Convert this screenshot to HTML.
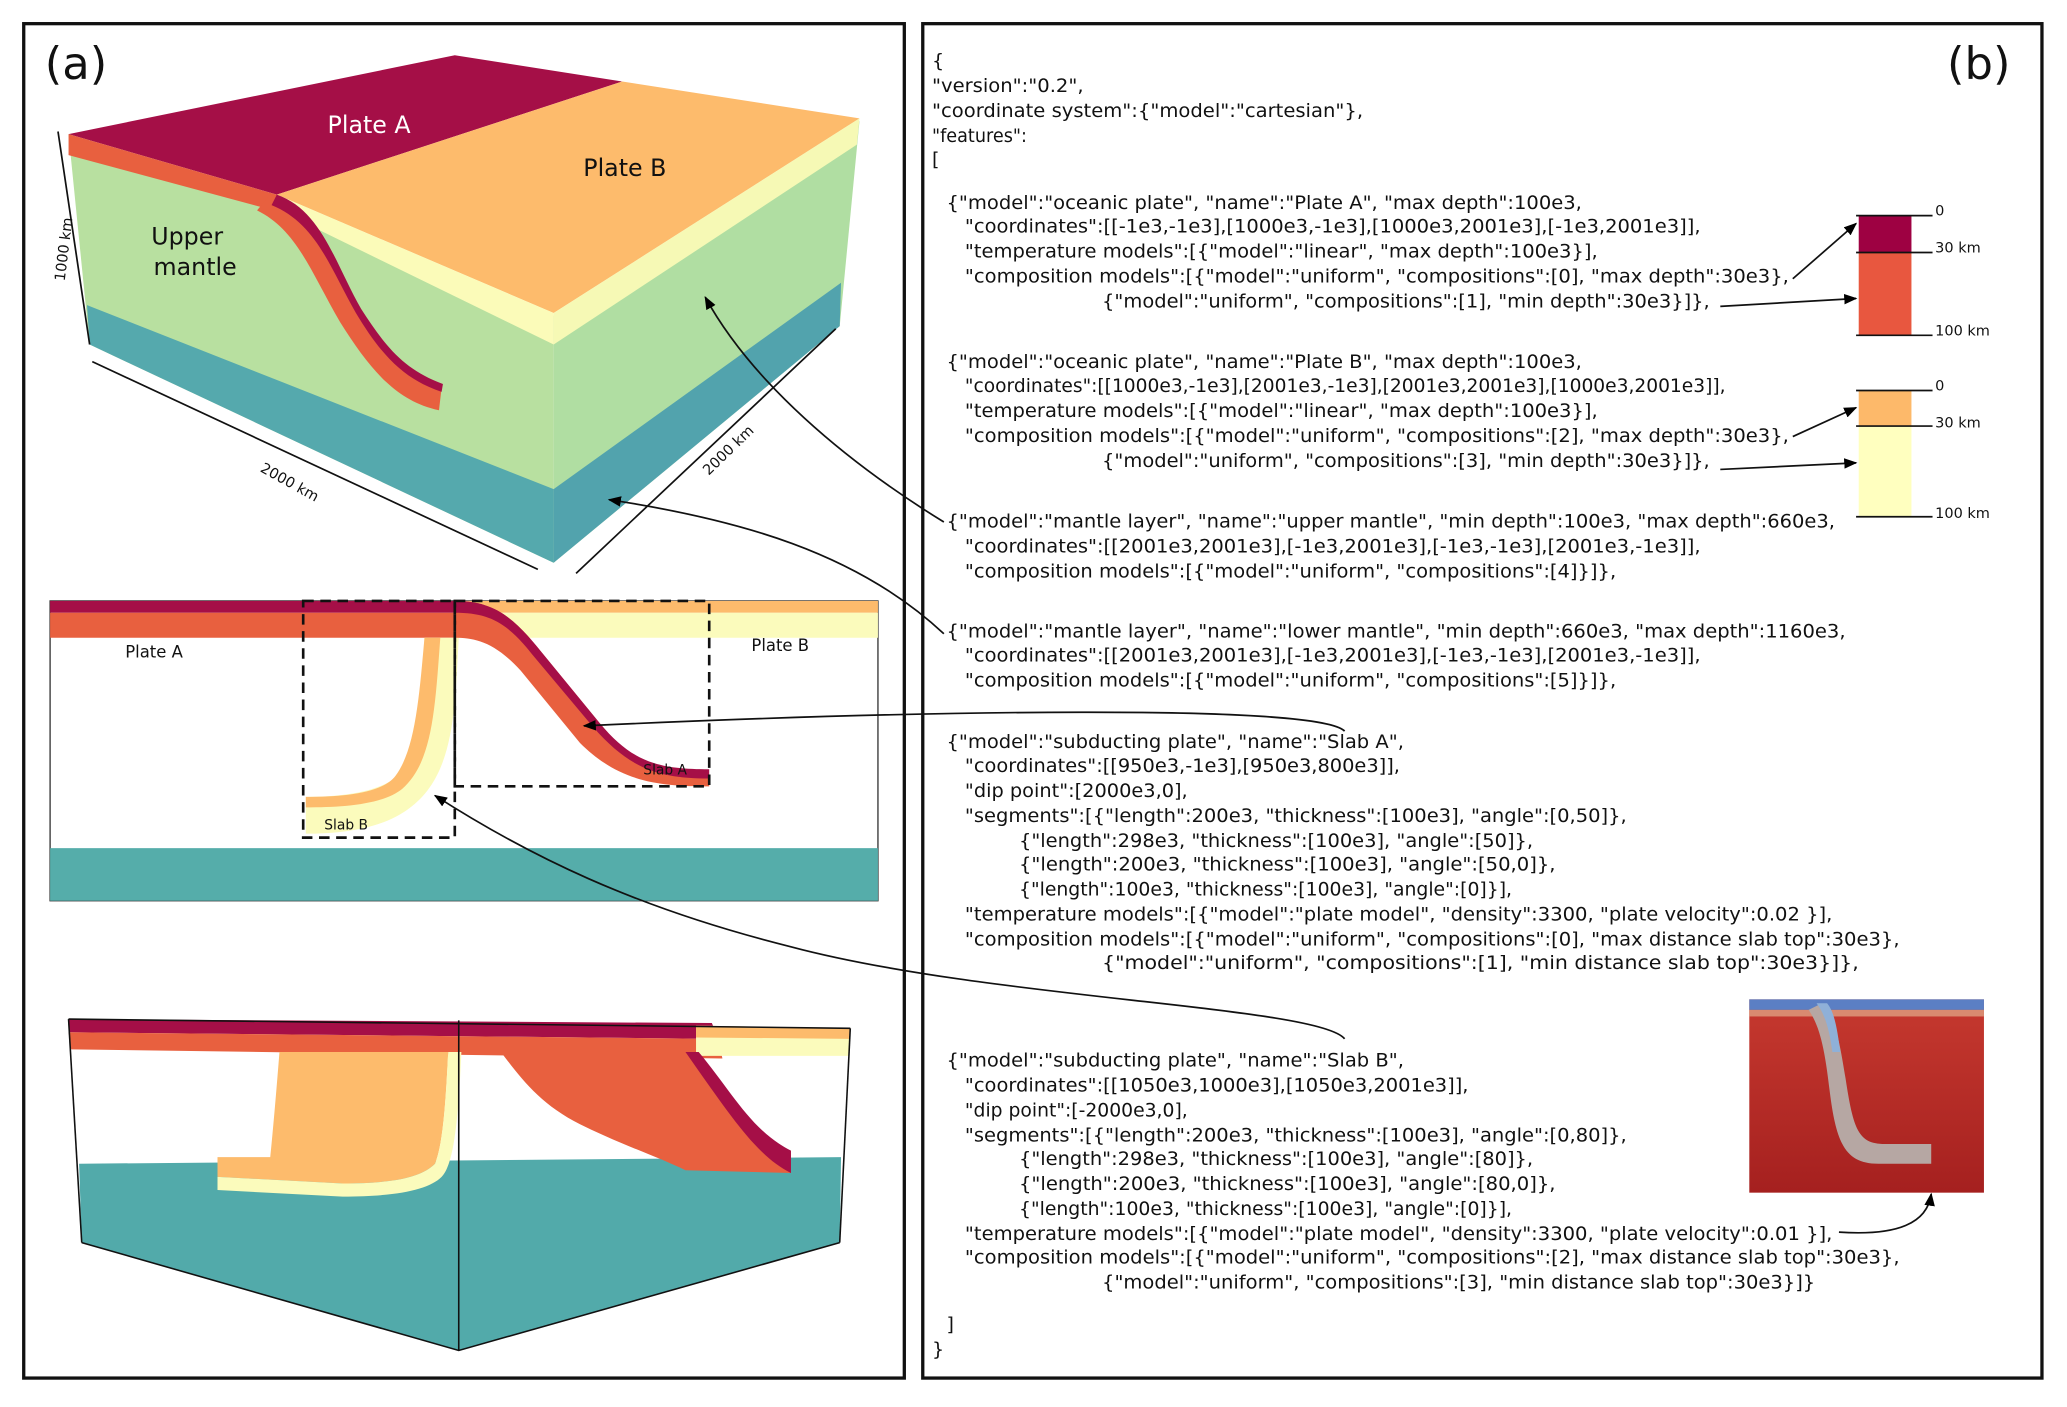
<!DOCTYPE html>
<html><head><meta charset="utf-8"><style>
html,body{margin:0;padding:0;background:#fff}
svg{display:block}
.c{font-family:"DejaVu Sans","Liberation Sans",sans-serif;font-size:14.5px;fill:#111}
.s{font-family:"DejaVu Sans","Liberation Sans",sans-serif;font-size:11px;fill:#111}
</style></head><body>
<svg width="2067" height="1407" viewBox="0 0 1568 1070" preserveAspectRatio="none" xmlns="http://www.w3.org/2000/svg">
<defs>
<marker id="ah" markerWidth="10" markerHeight="8" refX="9" refY="4" orient="auto" markerUnits="userSpaceOnUse"><path d="M0,0 L10,4 L0,8 z" fill="#000"/></marker>
<linearGradient id="ins" x1="0" y1="0" x2="0" y2="1"><stop offset="0" stop-color="#c6392f"/><stop offset="1" stop-color="#a5201f"/></linearGradient>
</defs>
<rect x="0" y="0" width="1568" height="1070" fill="#fff"/>
<rect x="18" y="18" width="668" height="1030" fill="none" stroke="#111" stroke-width="2.5"/>
<rect x="700" y="18" width="849" height="1030" fill="none" stroke="#111" stroke-width="2.5"/>
<text x="34" y="60" font-family="DejaVu Sans,sans-serif" font-size="34" fill="#111">(a)</text>
<text x="1477" y="60" font-family="DejaVu Sans,sans-serif" font-size="34" fill="#111">(b)</text>

<g>
<polygon points="52,102 420,240 420,428 68,262" fill="#b8e0a0"/>
<polygon points="420,240 652,92 637,248 420,428" fill="#b0dea2"/>
<polygon points="66,232 420,372 420,428 68,262" fill="#55a9ad"/>
<polygon points="420,372 638,215 637,248 420,428" fill="#52a3ad"/>
<polygon points="52,102 345,42 472,62 210,148" fill="#a50f47"/>
<polygon points="472,62 652,90 420,238 210,148" fill="#fdbb6c"/>
<polygon points="210,148 420,238 420,262 232,170" fill="#fbfbb9"/>
<polygon points="420,238 652,90 650,110 420,262" fill="#f6f9b5"/>
<polygon points="52,102 210,148 215,162 52,118" fill="#e8603f"/>
<path d="M205,148 C240,160 250,200 270,235 C290,265 305,285 335,295 L333,312 C300,305 280,280 258,245 C235,205 225,175 195,160 Z" fill="#e8603f"/>
<path d="M210,148 C244,160 254,200 274,235 C292,263 306,281 336,292 L335,298 C305,288 288,268 270,238 C250,203 240,170 206,156 Z" fill="#a50f47"/>
<text x="280" y="101" font-family="DejaVu Sans,sans-serif" font-size="18" fill="#fff" text-anchor="middle">Plate A</text>
<text x="474" y="134" font-family="DejaVu Sans,sans-serif" font-size="18" fill="#111" text-anchor="middle">Plate B</text>
<text x="142" y="186" font-family="DejaVu Sans,sans-serif" font-size="18" fill="#111" text-anchor="middle">Upper</text>
<text x="148" y="209" font-family="DejaVu Sans,sans-serif" font-size="18" fill="#111" text-anchor="middle">mantle</text>
<line x1="44" y1="100" x2="68" y2="262" stroke="#111" stroke-width="1.3"/>
<text transform="translate(52,190) rotate(-83)" font-family="DejaVu Sans,sans-serif" font-size="11" fill="#111" text-anchor="middle">1000 km</text>
<line x1="70" y1="275" x2="408" y2="433" stroke="#111" stroke-width="1.3"/>
<text transform="translate(218,370) rotate(29)" font-family="DejaVu Sans,sans-serif" font-size="11" fill="#111" text-anchor="middle">2000 km</text>
<line x1="437" y1="436" x2="634" y2="250" stroke="#111" stroke-width="1.3"/>
<text transform="translate(555,345) rotate(-44)" font-family="DejaVu Sans,sans-serif" font-size="11" fill="#111" text-anchor="middle">2000 km</text>
</g>

<g>
<rect x="38" y="457" width="628" height="228" fill="#fff" stroke="#333" stroke-width="1"/>
<rect x="38" y="645" width="628" height="40" fill="#55adaa"/>
<rect x="38" y="457" width="310" height="9" fill="#a50f47"/>
<rect x="38" y="466" width="310" height="19" fill="#e8603f"/>
<rect x="345" y="457" width="321" height="9" fill="#fdbb6c"/>
<rect x="345" y="466" width="321" height="19" fill="#fbfbbc"/>
<path d="M322,485 L348,485 C345,540 345,590 310,615 C290,630 260,634 232,634 L232,606 C268,606 300,600 310,580 C318,555 320,520 322,485 Z" fill="#fbfbbc"/>
<path d="M322,485 L334,485 C330,540 328,580 305,600 C290,612 260,614 232,614 L232,606 C262,606 290,603 300,590 C315,570 318,530 322,485 Z" fill="#fdbb6c"/>
<path d="M345,457 C375,457 390,470 410,495 L455,550 C480,580 500,590 538,590 L538,598 C500,598 470,595 440,565 L395,510 C375,488 360,485 345,485 Z" fill="#e8603f"/>
<path d="M345,457 C375,457 390,470 410,495 L455,550 C480,580 500,585 538,585 L538,592 C500,592 478,585 450,553 L404,498 C385,474 372,466 345,466 Z" fill="#a50f47"/>
<rect x="230" y="457" width="115" height="180" fill="none" stroke="#111" stroke-width="2" stroke-dasharray="8,5"/>
<rect x="345" y="457" width="193" height="141" fill="none" stroke="#111" stroke-width="2" stroke-dasharray="8,5"/>
<text x="95" y="500" font-family="DejaVu Sans,sans-serif" font-size="12.5" fill="#111">Plate A</text>
<text x="570" y="495" font-family="DejaVu Sans,sans-serif" font-size="12.5" fill="#111">Plate B</text>
<text x="488" y="589" font-family="DejaVu Sans,sans-serif" font-size="10.5" fill="#111">Slab A</text>
<text x="246" y="631" font-family="DejaVu Sans,sans-serif" font-size="10.5" fill="#111">Slab B</text>
</g>

<g>
<polygon points="60,885 638,880 637,945 348,1027 62,945" fill="#52aaaa"/>
<polygon points="52,775 540,778 545,790 52,785" fill="#a50f47"/>
<polygon points="52,785 545,790 548,805 54,798" fill="#e8603f"/>
<polygon points="528,780 645,782 644,803 528,803" fill="#fbfbbc"/>
<polygon points="528,780 645,782 645,790 528,789" fill="#fdbb6c"/>
<path d="M380,800 L520,800 C545,830 560,860 575,870 L600,875 L600,892 L520,890 C500,880 470,870 440,855 C410,840 395,820 380,800 Z" fill="#e8603f"/>
<path d="M520,800 L530,800 C555,830 570,860 600,875 L600,892 C575,880 555,850 520,800 Z" fill="#a50f47"/>
<path d="M212,800 L340,800 C338,840 336,870 330,885 C320,895 300,900 260,900 L165,895 L165,880 L205,880 C208,850 210,825 212,800 Z" fill="#fdbb6c"/>
<path d="M340,800 L350,800 C348,845 345,885 335,895 C325,905 300,910 260,910 L165,905 L165,895 L260,900 C300,900 320,895 330,885 C336,870 338,840 340,800 Z" fill="#fbfbbc"/>
<polyline points="52,775 645,782" fill="none" stroke="#111" stroke-width="1.2"/>
<line x1="52" y1="775" x2="62" y2="945" stroke="#111" stroke-width="1.2"/>
<line x1="645" y1="782" x2="637" y2="945" stroke="#111" stroke-width="1.2"/>
<line x1="348" y1="776" x2="348" y2="1027" stroke="#111" stroke-width="1.2"/>
<polyline points="62,945 348,1027 637,945" fill="none" stroke="#111" stroke-width="1.2"/>
</g>

<g fill="none" stroke="#111" stroke-width="1.3">
<path d="M716,397 C640,350 570,290 535,226" marker-end="url(#ah)"/>
<path d="M716,482 C650,420 560,395 462,380" marker-end="url(#ah)"/>
<path d="M1020,556 C1000,535 700,540 443,552" marker-end="url(#ah)"/>
<path d="M1020,790 C1000,765 750,760 600,720 C480,690 400,650 330,605" marker-end="url(#ah)"/>
<path d="M1395,937 C1440,940 1462,930 1465,908" marker-end="url(#ah)"/>
<line x1="1360" y1="212" x2="1408" y2="170" marker-end="url(#ah)"/>
<line x1="1305" y1="233" x2="1408" y2="227" marker-end="url(#ah)"/>
<line x1="1360" y1="332" x2="1408" y2="310" marker-end="url(#ah)"/>
<line x1="1305" y1="357" x2="1408" y2="352" marker-end="url(#ah)"/>
</g>

<g>
<rect x="1410" y="164" width="40" height="28" fill="#9e0142"/>
<rect x="1410" y="192" width="40" height="63" fill="#e8573f"/>
<line x1="1408" y1="164" x2="1466" y2="164" stroke="#111" stroke-width="1.3"/>
<line x1="1408" y1="192" x2="1466" y2="192" stroke="#111" stroke-width="1.3"/>
<line x1="1408" y1="255" x2="1466" y2="255" stroke="#111" stroke-width="1.3"/>
<text class="s" x="1468" y="164">0</text><text class="s" x="1468" y="192">30 km</text><text class="s" x="1468" y="255">100 km</text>
</g>
<g>
<rect x="1410" y="297" width="40" height="27" fill="#fdb96a"/>
<rect x="1410" y="324" width="40" height="69" fill="#ffffbf"/>
<line x1="1408" y1="297" x2="1466" y2="297" stroke="#111" stroke-width="1.3"/>
<line x1="1408" y1="324" x2="1466" y2="324" stroke="#111" stroke-width="1.3"/>
<line x1="1408" y1="393" x2="1466" y2="393" stroke="#111" stroke-width="1.3"/>
<text class="s" x="1468" y="297">0</text><text class="s" x="1468" y="325">30 km</text><text class="s" x="1468" y="394">100 km</text>
</g>
<g>
<rect x="1327" y="760" width="178" height="147" fill="url(#ins)"/>
<rect x="1327" y="760" width="178" height="8" fill="#5b7fc4"/>
<rect x="1327" y="768" width="178" height="5" fill="#d98a70"/>
<path d="M1380,764 C1392,770 1395,790 1400,820 C1406,860 1410,870 1430,870 L1465,870 L1465,885 L1425,885 C1400,885 1393,870 1388,830 C1384,795 1380,780 1372,768 Z" fill="#b6a7a3"/>
<path d="M1378,763 L1386,763 C1392,770 1394,785 1396,800 L1390,800 C1388,785 1385,772 1378,763 Z" fill="#8fb0d8"/>
</g>

<g class="c">
<text x="707" y="51">{</text>
<text x="707" y="70" textLength="115" lengthAdjust="spacingAndGlyphs">"version":"0.2",</text>
<text x="707" y="89" textLength="327" lengthAdjust="spacingAndGlyphs">"coordinate system":{"model":"cartesian"},</text>
<text x="707" y="108" textLength="72" lengthAdjust="spacingAndGlyphs">"features":</text>
<text x="707" y="126">[</text>

<text x="718" y="159" textLength="482" lengthAdjust="spacingAndGlyphs">{"model":"oceanic plate", "name":"Plate A", "max depth":100e3,</text>
<text x="732" y="177" textLength="558" lengthAdjust="spacingAndGlyphs">"coordinates":[[-1e3,-1e3],[1000e3,-1e3],[1000e3,2001e3],[-1e3,2001e3]],</text>
<text x="732" y="196" textLength="480" lengthAdjust="spacingAndGlyphs">"temperature models":[{"model":"linear", "max depth":100e3}],</text>
<text x="732" y="215" textLength="625" lengthAdjust="spacingAndGlyphs">"composition models":[{"model":"uniform", "compositions":[0], "max depth":30e3},</text>
<text x="836" y="234" textLength="461" lengthAdjust="spacingAndGlyphs">{"model":"uniform", "compositions":[1], "min depth":30e3}]},</text>

<text x="718" y="280" textLength="482" lengthAdjust="spacingAndGlyphs">{"model":"oceanic plate", "name":"Plate B", "max depth":100e3,</text>
<text x="732" y="298" textLength="577" lengthAdjust="spacingAndGlyphs">"coordinates":[[1000e3,-1e3],[2001e3,-1e3],[2001e3,2001e3],[1000e3,2001e3]],</text>
<text x="732" y="317" textLength="480" lengthAdjust="spacingAndGlyphs">"temperature models":[{"model":"linear", "max depth":100e3}],</text>
<text x="732" y="336" textLength="625" lengthAdjust="spacingAndGlyphs">"composition models":[{"model":"uniform", "compositions":[2], "max depth":30e3},</text>
<text x="836" y="355" textLength="461" lengthAdjust="spacingAndGlyphs">{"model":"uniform", "compositions":[3], "min depth":30e3}]},</text>

<text x="718" y="401" textLength="674" lengthAdjust="spacingAndGlyphs">{"model":"mantle layer", "name":"upper mantle", "min depth":100e3, "max depth":660e3,</text>
<text x="732" y="420" textLength="558" lengthAdjust="spacingAndGlyphs">"coordinates":[[2001e3,2001e3],[-1e3,2001e3],[-1e3,-1e3],[2001e3,-1e3]],</text>
<text x="732" y="439" textLength="494" lengthAdjust="spacingAndGlyphs">"composition models":[{"model":"uniform", "compositions":[4]}]},</text>

<text x="718" y="485" textLength="682" lengthAdjust="spacingAndGlyphs">{"model":"mantle layer", "name":"lower mantle", "min depth":660e3, "max depth":1160e3,</text>
<text x="732" y="503" textLength="558" lengthAdjust="spacingAndGlyphs">"coordinates":[[2001e3,2001e3],[-1e3,2001e3],[-1e3,-1e3],[2001e3,-1e3]],</text>
<text x="732" y="522" textLength="494" lengthAdjust="spacingAndGlyphs">"composition models":[{"model":"uniform", "compositions":[5]}]},</text>

<text x="718" y="569" textLength="347" lengthAdjust="spacingAndGlyphs">{"model":"subducting plate", "name":"Slab A",</text>
<text x="732" y="587" textLength="330" lengthAdjust="spacingAndGlyphs">"coordinates":[[950e3,-1e3],[950e3,800e3]],</text>
<text x="732" y="606" textLength="169" lengthAdjust="spacingAndGlyphs">"dip point":[2000e3,0],</text>
<text x="732" y="625" textLength="502" lengthAdjust="spacingAndGlyphs">"segments":[{"length":200e3, "thickness":[100e3], "angle":[0,50]},</text>
<text x="773" y="644" textLength="390" lengthAdjust="spacingAndGlyphs">{"length":298e3, "thickness":[100e3], "angle":[50]},</text>
<text x="773" y="662" textLength="407" lengthAdjust="spacingAndGlyphs">{"length":200e3, "thickness":[100e3], "angle":[50,0]},</text>
<text x="773" y="681" textLength="374" lengthAdjust="spacingAndGlyphs">{"length":100e3, "thickness":[100e3], "angle":[0]}],</text>
<text x="732" y="700" textLength="658" lengthAdjust="spacingAndGlyphs">"temperature models":[{"model":"plate model", "density":3300, "plate velocity":0.02 }],</text>
<text x="732" y="719" textLength="709" lengthAdjust="spacingAndGlyphs">"composition models":[{"model":"uniform", "compositions":[0], "max distance slab top":30e3},</text>
<text x="836" y="737" textLength="574" lengthAdjust="spacingAndGlyphs">{"model":"uniform", "compositions":[1], "min distance slab top":30e3}]},</text>

<text x="718" y="811" textLength="347" lengthAdjust="spacingAndGlyphs">{"model":"subducting plate", "name":"Slab B",</text>
<text x="732" y="830" textLength="382" lengthAdjust="spacingAndGlyphs">"coordinates":[[1050e3,1000e3],[1050e3,2001e3]],</text>
<text x="732" y="849" textLength="169" lengthAdjust="spacingAndGlyphs">"dip point":[-2000e3,0],</text>
<text x="732" y="868" textLength="502" lengthAdjust="spacingAndGlyphs">"segments":[{"length":200e3, "thickness":[100e3], "angle":[0,80]},</text>
<text x="773" y="886" textLength="390" lengthAdjust="spacingAndGlyphs">{"length":298e3, "thickness":[100e3], "angle":[80]},</text>
<text x="773" y="905" textLength="407" lengthAdjust="spacingAndGlyphs">{"length":200e3, "thickness":[100e3], "angle":[80,0]},</text>
<text x="773" y="924" textLength="374" lengthAdjust="spacingAndGlyphs">{"length":100e3, "thickness":[100e3], "angle":[0]}],</text>
<text x="732" y="943" textLength="658" lengthAdjust="spacingAndGlyphs">"temperature models":[{"model":"plate model", "density":3300, "plate velocity":0.01 }],</text>
<text x="732" y="961" textLength="709" lengthAdjust="spacingAndGlyphs">"composition models":[{"model":"uniform", "compositions":[2], "max distance slab top":30e3},</text>
<text x="836" y="980" textLength="541" lengthAdjust="spacingAndGlyphs">{"model":"uniform", "compositions":[3], "min distance slab top":30e3}]}</text>

<text x="718" y="1012">]</text>
<text x="707" y="1031">}</text>
</g>
</svg>
</body></html>
